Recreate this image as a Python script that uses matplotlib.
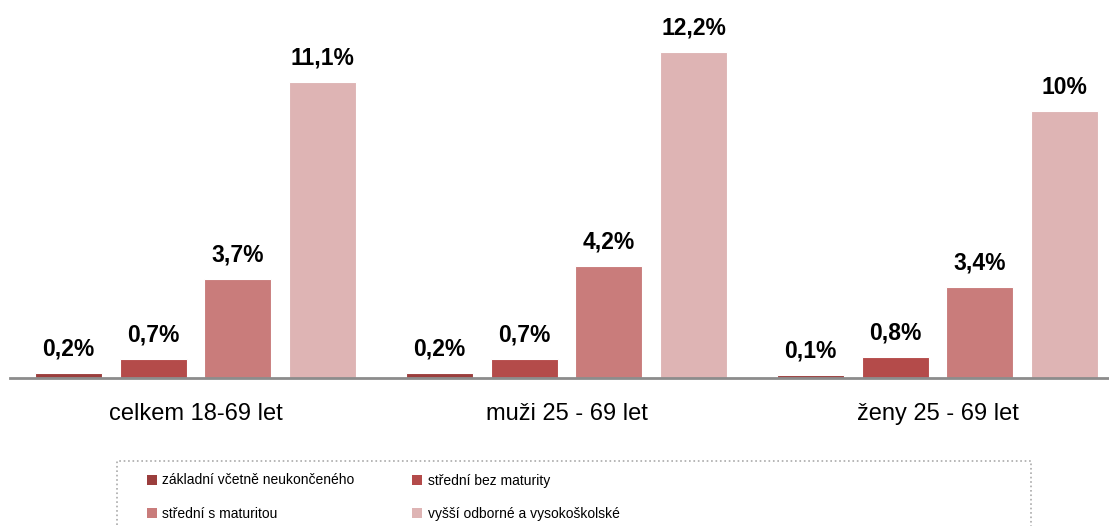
import numpy as np
import matplotlib.pyplot as plt
from matplotlib.patches import Patch, Rectangle

plt.rcParams['font.family'] = ['Liberation Sans', 'DejaVu Sans']

# data
groups = ['celkem 18-69 let', 'muži 25 - 69 let', 'ženy 25 - 69 let']
series = ['základní včetně neukončeného', 'střední bez maturity',
          'střední s maturitou', 'vyšší odborné a vysokoškolské']
zakladni = [0.2, 0.2, 0.1]
bez_maturity = [0.7, 0.7, 0.8]
s_maturitou = [3.7, 4.2, 3.4]
vyssi = [11.1, 12.2, 10.0]
values = [zakladni, bez_maturity, s_maturitou, vyssi]
colors = ['#9b3e3d', '#b44b4a', '#c97c7b', '#deb4b4']

W, H = 1109, 526
fig = plt.figure(figsize=(W / 100, H / 100), dpi=100)
ax = fig.add_axes([10 / W, 148 / H, 1 - 10 / W, 1 - 148 / H])

x = np.arange(len(groups))
offsets = [-0.342, -0.113, 0.113, 0.342]
width = 0.181
for vals, off, col in zip(values, offsets, colors):
    bars = ax.bar(x + off, vals, width, color=col, edgecolor='white',
                  linewidth=0.8)
    for b, v in zip(bars, vals):
        lab = f"{v:g}".replace('.', ',') + '%'
        ax.annotate(lab, (b.get_x() + b.get_width() / 2, v),
                    xytext=(0, 9), textcoords='offset points',
                    ha='center', va='bottom', fontsize=16.5,
                    fontweight='bold', color='black')

ax.set_xlim(-0.5, 2.462)
ax.set_ylim(0, 14.16)
ax.set_xticks(x)
ax.set_xticklabels(groups, fontsize=17)
ax.tick_params(axis='x', length=0, pad=18)
ax.set_yticks([])
for s in ['top', 'right', 'left']:
    ax.spines[s].set_visible(False)
ax.spines['bottom'].set_color('#8c8c8c')
ax.spines['bottom'].set_linewidth(2)

# legend with dotted frame (row-wise order)
fig.patches.append(Rectangle((117 / W, -0.05), (1031 - 117) / W,
                             0.05 + (H - 461) / H, transform=fig.transFigure,
                             fill=False, edgecolor='#aaaaaa', linestyle=':',
                             linewidth=1.2))
order = [0, 2, 1, 3]
handles = [Patch(facecolor=colors[i], edgecolor='none') for i in order]
labels = [series[i] for i in order]
fig.legend(handles, labels, loc='upper left',
           bbox_to_anchor=(134 / W, 1 - 461 / H), ncol=2, frameon=False,
           fontsize=10, handlelength=0.75, handleheight=0.75,
           handletextpad=0.4, columnspacing=4.1, labelspacing=1.4)

fig.savefig('out.png', dpi=100)
